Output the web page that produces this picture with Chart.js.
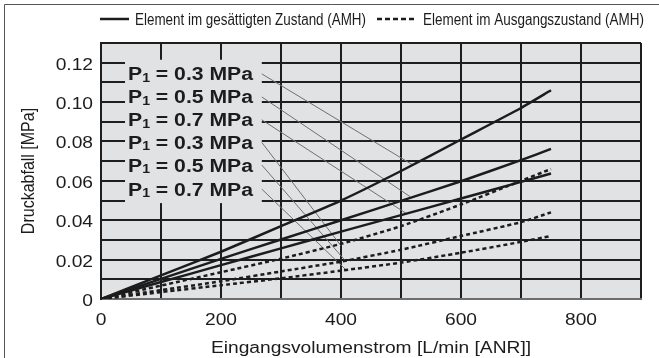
<!DOCTYPE html>
<html>
<head>
<meta charset="utf-8">
<script src="https://cdn.jsdelivr.net/npm/chart.js@4.4.0/dist/chart.umd.min.js"></script>
<style>
  html, body { margin: 0; padding: 0; background: #fff; }
  #wrap { width: 659px; height: 358px; position: relative; }
</style>
</head>
<body>
<div id="wrap"><canvas id="chart"></canvas></div>
<script>
// Flow rate samples [L/min (ANR)]
const flowRates = [0, 100, 200, 300, 400, 500, 600, 700, 750];

// Pressure drop [MPa] - element saturated (solid lines)
const saturated03 = [0, 0.012, 0.024, 0.037, 0.050, 0.065, 0.081, 0.097, 0.106];
const saturated05 = [0, 0.0102, 0.0204, 0.0302, 0.040, 0.0498, 0.0598, 0.0705, 0.0762];
const saturated07 = [0, 0.0086, 0.0172, 0.0257, 0.0342, 0.0426, 0.051, 0.0595, 0.0637];

// Pressure drop [MPa] - element initial state (dashed lines)
const initial03 = [0, 0.0068, 0.0136, 0.0205, 0.028, 0.037, 0.048, 0.060, 0.066];
const initial05 = [0, 0.0045, 0.009, 0.014, 0.019, 0.025, 0.032, 0.039, 0.044];
const initial07 = [0, 0.0035, 0.007, 0.0105, 0.0144, 0.0185, 0.0235, 0.029, 0.032];

// Axis tick labels
const xTickLabels = ['0', '200', '400', '600', '800'];
const yTickLabels = ['0', '0.02', '0.04', '0.06', '0.08', '0.10', '0.12'];

const legendLabels = ['Element im gesättigten Zustand (AMH)', 'Element im Ausgangszustand (AMH)'];

// Curve labels (P1) and their leader lines, in data units
const pressureLabels = ['0.3', '0.5', '0.7', '0.3', '0.5', '0.7'];
const labelLevels = [0.1143, 0.1026, 0.0910, 0.0795, 0.0680, 0.0558];
const leaderStartX = 268;
const leaderEndX = [520, 515, 509, 400, 407, 409];
const leaderEndY = [0.068, 0.052, 0.0434, 0.027, 0.0195, 0.0146];

const INK = '#1c1c1c';
const PLOT_BG = '#e1e2e4';
const FONT = '"Liberation Sans", Arial, sans-serif';

const toPoints = values => values.map((v, i) => ({ x: flowRates[i], y: v }));

function curve(values, dashed) {
    return {
        data: toPoints(values),
        borderColor: INK,
        borderWidth: 2.5,
        borderDash: dashed ? [4, 3] : [],
        pointRadius: 0,
        tension: 0.2,
        fill: false
    };
}

const datasets = [
    curve(saturated03, false),
    curve(saturated05, false),
    curve(saturated07, false),
    curve(initial03, true),
    curve(initial05, true),
    curve(initial07, true)
];

// Thin leader lines from the labels to the curves
leaderEndX.forEach((ex, i) => {
    datasets.push({
        data: [{ x: leaderStartX, y: labelLevels[i] }, { x: ex, y: leaderEndY[i] }],
        borderColor: '#707070',
        borderWidth: 1,
        pointRadius: 0,
        fill: false
    });
});

/**
 * Draw text, optionally stretched horizontally (or fitted to a width)
 */
function drawText(ctx, text, x, y, o) {
    ctx.save();
    ctx.font = o.font;
    ctx.fillStyle = INK;
    ctx.textBaseline = o.baseline || 'alphabetic';
    ctx.textAlign = 'left';
    const w = ctx.measureText(text).width;
    const sx = o.width ? o.width / w : (o.stretch || 1);
    ctx.translate(x, y);
    ctx.scale(sx, 1);
    let dx = 0;
    if (o.align === 'right') dx = -w;
    if (o.align === 'center') dx = -w / 2;
    ctx.fillText(text, dx, 0);
    ctx.restore();
}

const decorPlugin = {
    id: 'decor',
    beforeDraw(chart) {
        const { ctx, chartArea: a } = chart;
        ctx.save();
        ctx.fillStyle = PLOT_BG;
        ctx.fillRect(a.left, a.top, a.right - a.left, a.bottom - a.top);
        ctx.restore();
    },
    beforeDatasetsDraw(chart) {
        // box behind the P1 labels hides the grid
        const { ctx, scales: { x, y } } = chart;
        const l = x.getPixelForValue(40), r = x.getPixelForValue(leaderStartX);
        const t = y.getPixelForValue(0.1215), b = y.getPixelForValue(0.0487);
        ctx.save();
        ctx.fillStyle = PLOT_BG;
        ctx.fillRect(l, t, r - l, b - t);
        ctx.restore();
    },
    afterDraw(chart) {
        const { ctx, chartArea: a, scales: { x, y } } = chart;
        const tickFont = '16px ' + FONT;

        // tick labels
        xTickLabels.forEach(lbl => {
            drawText(ctx, lbl, x.getPixelForValue(Number(lbl)), 325, { font: tickFont, align: 'center', stretch: 1.2 });
        });
        yTickLabels.forEach(lbl => {
            drawText(ctx, lbl, 93, y.getPixelForValue(Number(lbl)) + 7, { font: tickFont, align: 'right', stretch: 1.2 });
        });

        // axis titles
        drawText(ctx, 'Eingangsvolumenstrom [L/min [ANR]]', (a.left + a.right) / 2, 353, { font: tickFont, align: 'center', stretch: 1.2 });
        ctx.save();
        ctx.font = tickFont;
        ctx.fillStyle = INK;
        ctx.textAlign = 'center';
        ctx.textBaseline = 'middle';
        ctx.translate(29, (a.top + a.bottom) / 2);
        ctx.scale(1.2, 1);
        ctx.rotate(-Math.PI / 2);
        ctx.fillText('Druckabfall [MPa]', 0, 0);
        ctx.restore();

        // P1 labels
        const big = 'bold 18px ' + FONT, small = 'bold 12px ' + FONT;
        pressureLabels.forEach((p, i) => {
            const cy = y.getPixelForValue(labelLevels[i]);
            const rest = ' = ' + p + ' MPa';
            ctx.save();
            ctx.font = big;
            const wP = ctx.measureText('P').width;
            const wR = ctx.measureText(rest).width;
            ctx.font = small;
            const w1 = ctx.measureText('1').width;
            const sx = 125 / (wP + w1 + wR);
            ctx.translate(128, cy + 6.5);
            ctx.scale(sx, 1);
            ctx.fillStyle = INK;
            ctx.textBaseline = 'alphabetic';
            ctx.font = big;
            ctx.fillText('P', 0, 0);
            ctx.font = small;
            ctx.fillText('1', wP, 1.5);
            ctx.font = big;
            ctx.fillText(rest, wP + w1, 0);
            ctx.restore();
        });

        // legend
        ctx.save();
        ctx.strokeStyle = INK;
        ctx.lineWidth = 2.5;
        ctx.beginPath();
        ctx.moveTo(100, 19);
        ctx.lineTo(129, 19);
        ctx.stroke();
        ctx.setLineDash([5, 3]);
        ctx.beginPath();
        ctx.moveTo(377, 19);
        ctx.lineTo(415, 19);
        ctx.stroke();
        ctx.restore();
        const legFont = '16px ' + FONT;
        drawText(ctx, legendLabels[0], 135, 25, { font: legFont, width: 231 });
        drawText(ctx, legendLabels[1], 423, 25, { font: legFont, width: 221 });

        // frame (top and left edge)
        ctx.save();
        ctx.strokeStyle = '#555';
        ctx.lineWidth = 1;
        ctx.beginPath();
        ctx.moveTo(659, 4.5);
        ctx.lineTo(4.5, 4.5);
        ctx.lineTo(4.5, 358);
        ctx.stroke();
        ctx.restore();
    }
};

const gridColor = '#1e1e1e';

new Chart(document.getElementById('chart'), {
    type: 'line',
    data: { datasets },
    options: {
        responsive: true,
        maintainAspectRatio: false,
        devicePixelRatio: 1,
        animation: false,
        events: [],
        layout: { padding: { top: 43, right: 18, left: 0, bottom: 0 } },
        scales: {
            x: {
                type: 'linear',
                min: 0,
                max: 900,
                ticks: { stepSize: 100, display: false },
                grid: { color: gridColor, lineWidth: 2, drawTicks: false },
                border: { display: true, color: '#6e6e6e', width: 2 },
                afterFit: s => { s.height = 59; }
            },
            y: {
                min: 0,
                max: 0.13,
                ticks: { stepSize: 0.01, display: false },
                grid: {
                    color: c => (c.tick && c.tick.value === 0 ? '#6e6e6e' : gridColor),
                    lineWidth: 2,
                    drawTicks: false
                },
                border: { display: true, color: gridColor, width: 2 },
                afterFit: s => { s.width = 101; }
            }
        },
        plugins: {
            legend: { display: false },
            tooltip: { enabled: false }
        }
    },
    plugins: [decorPlugin]
});
</script>
</body>
</html>
